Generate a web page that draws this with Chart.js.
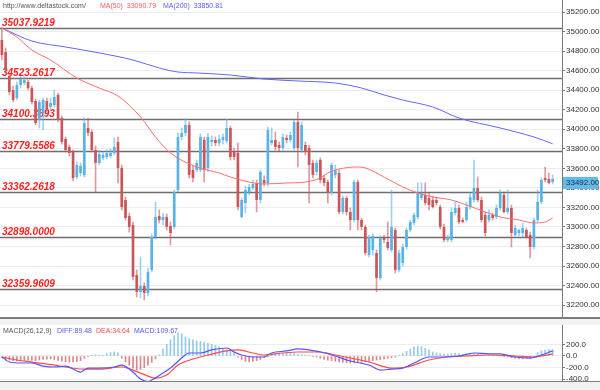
<!DOCTYPE html>
<html lang="en">
<head>
<meta charset="UTF-8">
<title>Deltastock chart</title>
<script src="https://cdn.jsdelivr.net/npm/chart.js@4.4.2/dist/chart.umd.min.js"></script>
<style>
    body {
        margin: 0;
        background: #f2f2f2;
        font-family: "Liberation Sans", Arial, sans-serif;
    }
    #wrap {
        position: relative;
        width: 600px;
        height: 390px;
        overflow: hidden;
    }
    canvas {
        position: absolute;
        left: 0;
        background: #fff;
    }
    #price { top: 0; }
    #macd { top: 325px; }
    .sep {
        position: absolute;
        left: 0;
        width: 600px;
        background: #7c7c7c;
    }
    .hdr {
        position: absolute;
        font-size: 7px;
        line-height: 9px;
        white-space: nowrap;
    }
</style>
</head>
<body>
<div id="wrap">
    <canvas id="price" width="600" height="318"></canvas>
    <div class="sep" style="top:317px;height:2px"></div>
    <canvas id="macd" width="600" height="57"></canvas>
    <div class="sep" style="top:381px;height:1px"></div>

    <div class="hdr" style="left:3px;top:1px;color:#555">http://www.deltastock.com/</div>
    <div class="hdr" style="left:100px;top:1px;color:#ff5a5a">MA(50)&nbsp;&nbsp;33090.79</div>
    <div class="hdr" style="left:163px;top:1px;color:#5c5cff">MA(200)&nbsp;&nbsp;33850.81</div>

    <div class="hdr" style="left:3px;top:326px;color:#555">MACD(26,12,9)</div>
    <div class="hdr" style="left:57px;top:326px;color:#5555ff">DIFF:89.48</div>
    <div class="hdr" style="left:96px;top:326px;color:#ff4a4a">DEA:34.64</div>
    <div class="hdr" style="left:134px;top:326px;color:#5555ff">MACD:109.67</div>
</div>
<script>
    // daily candles, oldest first
    const open = [
        34914,34791,34545,34402,34320,34453,34473,34484,34422,34289,
        34095,34166,34289,34228,34248,34351,34115,33900,33818,33767,
        33511,33552,33532,34013,33972,33788,33655,33706,33716,33726,
        33757,33870,33604,33276,33112,33020,32508,32335,32396,32324,
        32560,32897,33112,33071,33102,33010,33000,33378,33921,33962,
        34044,33583,
        33583,33583,33890,33604,33870,33890,33859,33890,33880,34013,
        33767,33757,33102,33245,33358,33399,33450,33276,33481,33450,
        33859,33890,33839,33808,33911,33890,33808,34074,33788,33839,
        33808,33655,33563,33685,33501,33460,33348,33532,33552,33153,
        33296,33153,33071,33460,33071,33000,32713,32764,32734,32478,
        32887,32846,32764,32969,
        32560,32631,32795,32969,33041,33102,33296,33327,33296,33276,
        33276,33204,33000,32867,32867,33143,33194,33071,33071,33204,
        33276,33399,33276,33122,33071,33122,33102,33194,33327,33153,
        33194,32918,32938,32938,32969,32918,32795,33071,33256,33501,
        33491,33460
    ];
    const high = [
        35038,34832,34566,34443,34484,34545,34535,34504,34443,34310,
        34299,34320,34320,34320,34402,34371,34136,33921,33839,33788,
        33665,33655,34115,34115,33992,33829,33788,33767,33788,33798,
        33911,33921,33634,33307,33143,33051,32560,32693,32427,32580,
        32928,33256,33174,33143,33133,33051,33378,33962,34013,34105,
        34074,33634,
        33685,33952,33921,33962,33931,33921,33941,33952,34105,34033,
        33808,33859,33296,33419,33440,33481,33481,33583,33522,34023,
        34013,33972,33870,33952,33941,33972,34095,34177,34074,33870,
        33839,33685,33685,33706,33532,33481,33655,33634,33583,33317,
        33317,33194,33481,33481,33092,33020,32918,32928,32764,32907,
        32918,33051,33378,32989,
        32764,32826,32989,33071,33143,33450,33450,33450,33348,33317,
        33307,33225,33030,32918,33194,33256,33225,33092,33256,33348,
        33685,33511,33307,33153,33174,33143,33225,33378,33358,33378,
        33225,33020,32979,33041,32989,32948,33092,33378,33501,33614,
        33552,33532
    ];
    const low = [
        34709,34576,34351,34279,34299,34422,34453,34402,34259,34044,
        34013,33992,34177,34197,34228,34074,33849,33767,33726,33470,
        33491,33522,33511,33931,33767,33358,33634,33685,33696,33706,
        33737,33450,33174,33071,32948,32457,32283,32273,32253,32294,
        32539,32877,33041,33020,32969,32815,32979,33358,33890,33931,
        33501,33460,
        33563,33563,33460,33563,33829,33829,33829,33849,33859,33685,
        33685,33174,33092,33143,33327,33378,33153,33245,33419,33419,
        33839,33788,33778,33788,33859,33870,33788,33614,33767,33737,
        33245,33501,33532,33450,33419,33245,33327,33501,33133,33133,
        33122,32969,33051,32969,32969,32713,32693,32713,32335,32457,
        32836,32764,32744,32529,
        32539,32600,32774,32948,33020,33081,33276,33225,33174,33194,
        33225,32979,32846,32846,32846,33122,33030,33041,33051,33184,
        33256,33256,33051,32907,33051,33071,33081,33174,33143,33133,
        32795,32887,32907,32897,32887,32682,32774,33051,33235,33460,
        33440,33440
    ];
    const close = [
        34760,34607,34381,34299,34453,34514,34504,34422,34279,34064,
        34279,34299,34207,34269,34330,34095,33870,33788,33757,33501,
        33634,33624,34064,33962,33788,33655,33747,33737,33757,33757,
        33818,33604,33204,33092,33000,32488,32335,32396,32324,32539,
        32897,33102,33071,33102,33000,32938,33358,33921,33962,34044,
        33532,33501,
        33655,33921,33583,33921,33890,33859,33900,33921,34013,33716,
        33716,33204,33276,33378,33409,33440,33276,33563,33450,33992,
        33890,33818,33808,33921,33890,33941,34074,33808,34044,33767,
        33634,33532,33655,33481,33450,33348,33634,33583,33153,33296,
        33153,33071,33460,33071,33000,32734,32897,32907,32478,32887,
        32867,32785,33000,32560,
        32734,32795,32969,33051,33122,33348,33348,33245,33225,33204,
        33245,33000,32867,32897,33153,33194,33051,33051,33204,33307,
        33399,33276,33071,32938,33122,33092,33194,33348,33153,33194,
        32938,32989,32969,32989,32897,32795,33071,33256,33481,33481,
        33450,33492
    ];

    // moving averages, read at candle index
    const ma50Idx = [0,4,8,13,20,26,31,37,41,45,52,58,61,66,70,76,81,85,87,90,95,97,102,107,111,115,120,124,129,133,138,142,145,147];
    const ma50Val = [35036,34944,34811,34709,34525,34422,34340,34126,33921,33757,33614,33552,33511,33460,33440,33450,33460,33501,33552,33593,33614,33604,33511,33409,33348,33307,33276,33225,33153,33102,33071,33041,33051,33091];
    const ma200Idx = [0,8,17,26,35,42,47,52,61,70,79,89,96,102,107,115,122,133,142,147];
    const ma200Val = [35036,34903,34842,34781,34709,34627,34586,34576,34555,34514,34494,34473,34422,34351,34299,34228,34115,34013,33921,33851];

    const fibLevels = [35037.9219, 34523.2617, 34100.3593, 33779.5586, 33362.2618, 32898.0000, 32359.9609];
    const priceTicks = [32200,32400,32600,32800,33000,33200,33400,33600,33800,34000,34200,34400,34600,34800,35000,35200];

    // MACD panel
    const diffIdx = [0,2,5,8,11,14,17,21,23,26,30,32,35,37,39,40,43,45,48,50,53,56,60,62,64,67,70,72,76,79,85,89,93,98,101,104,107,110,114,117,122,126,130,133,137,141,144,147];
    const diffVal = [-17,-104,-121,-121,-173,-190,-173,-277,-208,-208,-190,-156,-277,-398,-440,-415,-294,-208,-35,52,52,104,138,69,17,-17,-17,52,87,121,69,0,-87,-156,-242,-225,-208,-121,-17,-17,0,52,35,35,-17,-35,17,89];
    const deaIdx = [0,4,8,14,17,22,26,32,37,41,44,47,51,54,60,63,67,70,75,79,85,89,98,104,108,114,119,124,130,137,142,147];
    const deaVal = [-17,-69,-104,-156,-190,-225,-225,-190,-294,-381,-329,-156,-52,0,87,104,52,17,52,69,69,17,-104,-208,-190,-69,-17,0,17,0,-17,35];
    const hist = [
        -20,-50,-70,-80,-85,-80,-75,-70,-75,-80,-70,-60,-55,-50,
        -60,-75,-90,-100,-105,-100,-95,-80,
        -40,-10,10,20,15,10,
        40,60,70,55,
        -40,-100,-160,-210,-240,-230,-200,-160,-110,
        -50,20,
        120,200,280,350,400,380,330,
        300,280,260,250,240,220,200,180,160,130,110,90,60,
        -20,-60,-90,-100,-95,-80,-60,-30,-10,
        20,40,50,40,60,50,40,30,20,15,10,-10,
        -20,-40,-60,-70,-80,-90,-100,-110,-115,-120,-120,-115,-110,-100,-95,-80,-70,-60,-50,-40,-30,-20,
        10,40,80,120,160,170,160,130,100,70,50,40,30,
        30,40,50,40,30,40,50,40,30,20,10,
        5,0,5,0,-5,
        -20,-30,-40,-50,-50,-40,-30,-20,
        60,90,100,110,110
    ];
    const macdTicks = [-400, -200, 0, 200];

    Chart.defaults.font.family = '"Liberation Sans", Arial, sans-serif';

    const labels = Array.from({length: close.length + 2}, (_, i) => i);
    const pts = (idx, val) => idx.map((x, i) => ({x: x, y: val[i]}));
    const up = close.map((c, i) => c >= open[i]);

    function rightAxis(min, max, tickList, digits) {
        return {
            position: 'right',
            min: min,
            max: max,
            afterBuildTicks: ax => { ax.ticks = tickList.map(v => ({value: v})); },
            afterFit: ax => { ax.width = 38; ax.paddingTop = 0; ax.paddingBottom = 0; },
            grid: { color: '#ececec', tickLength: 3, tickColor: '#7a7a7a' },
            border: { color: '#7a7a7a' },
            ticks: {
                font: { size: 8 },
                color: '#333',
                padding: 1,
                callback: v => Number(v).toFixed(digits)
            }
        };
    }

    const fibPlugin = {
        id: 'fib',
        beforeDatasetsDraw(chart) {
            const {ctx, chartArea, scales} = chart;
            ctx.save();
            fibLevels.forEach(v => {
                const py = Math.round(scales.y.getPixelForValue(v)) + 0.5;
                ctx.strokeStyle = '#6e6e6e';
                ctx.lineWidth = 1.5;
                ctx.beginPath();
                ctx.moveTo(chartArea.left, py);
                ctx.lineTo(chartArea.right, py);
                ctx.stroke();
                ctx.fillStyle = '#ff1f1f';
                ctx.font = 'italic bold 10px "Liberation Sans"';
                ctx.fillText(v.toFixed(4), chartArea.left + 2, py - 3);
            });
            ctx.restore();
        }
    };

    const lastPricePlugin = {
        id: 'lastPrice',
        afterDraw(chart) {
            const {ctx, chartArea, scales} = chart;
            const last = close[close.length - 1];
            const py = scales.y.getPixelForValue(last);
            ctx.save();
            ctx.fillStyle = '#63bbea';
            ctx.fillRect(chartArea.right + 1, py - 2, 35, 12);
            ctx.fillStyle = '#1c2540';
            ctx.font = '8px "Liberation Sans"';
            ctx.textBaseline = 'middle';
            ctx.fillText(last.toFixed(2), chartArea.right + 4, py + 4);
            ctx.restore();
        }
    };

    new Chart(document.getElementById('price'), {
        type: 'bar',
        data: {
            labels: labels,
            datasets: [
                {
                    type: 'line',
                    data: pts(ma50Idx, ma50Val),
                    borderColor: '#ff6e6e',
                    borderWidth: 1,
                    pointRadius: 0,
                    cubicInterpolationMode: 'monotone',
                    order: 0
                },
                {
                    type: 'line',
                    data: pts(ma200Idx, ma200Val),
                    borderColor: '#6464ff',
                    borderWidth: 1,
                    pointRadius: 0,
                    cubicInterpolationMode: 'monotone',
                    order: 0
                },
                {
                    data: open.map((o, i) => [Math.min(o, close[i]), Math.max(o, close[i])]),
                    backgroundColor: up.map(u => u ? '#5ab3e4' : '#c9575a'),
                    barPercentage: 0.72,
                    categoryPercentage: 1,
                    grouped: false,
                    minBarLength: 1,
                    order: 1
                },
                {
                    data: low.map((l, i) => [l, high[i]]),
                    backgroundColor: up.map(u => u ? 'rgba(90,179,228,0.6)' : 'rgba(201,87,90,0.6)'),
                    barThickness: 1,
                    grouped: false,
                    order: 2
                }
            ]
        },
        options: {
            responsive: false,
            animation: false,
            events: [],
            layout: { padding: 0 },
            plugins: { legend: { display: false }, tooltip: { enabled: false } },
            scales: {
                x: { display: false },
                y: rightAxis(32068, 35323, priceTicks, 2)
            }
        },
        plugins: [fibPlugin, lastPricePlugin]
    });

    new Chart(document.getElementById('macd'), {
        type: 'bar',
        data: {
            labels: labels,
            datasets: [
                {
                    type: 'line',
                    data: pts(diffIdx, diffVal),
                    borderColor: '#5555ff',
                    borderWidth: 1.2,
                    pointRadius: 0,
                    cubicInterpolationMode: 'monotone',
                    order: 0
                },
                {
                    type: 'line',
                    data: pts(deaIdx, deaVal),
                    borderColor: '#ff4a4a',
                    borderWidth: 1.2,
                    pointRadius: 0,
                    cubicInterpolationMode: 'monotone',
                    order: 0
                },
                {
                    data: hist,
                    backgroundColor: hist.map(v => v >= 0 ? 'rgba(110,185,230,0.75)' : 'rgba(205,95,95,0.75)'),
                    barThickness: 1,
                    order: 1
                }
            ]
        },
        options: {
            responsive: false,
            animation: false,
            events: [],
            layout: { padding: 0 },
            plugins: { legend: { display: false }, tooltip: { enabled: false } },
            scales: {
                x: { display: false },
                y: rightAxis(-448, 534, macdTicks, 1)
            }
        }
    });
</script>
</body>
</html>
